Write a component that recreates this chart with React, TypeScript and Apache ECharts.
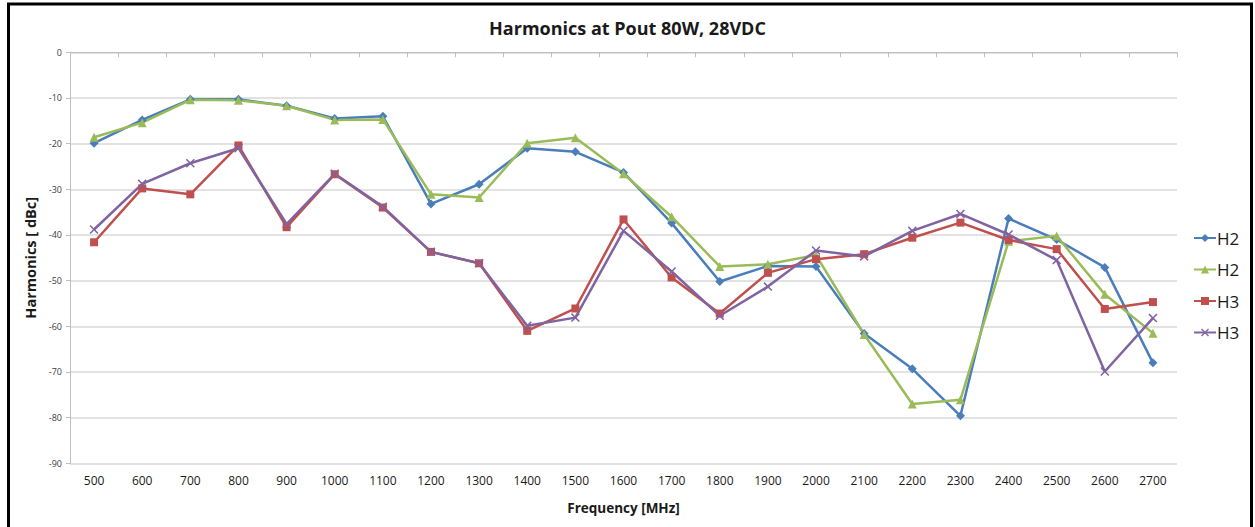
import React, { useEffect, useRef } from "react";
import * as echarts from "echarts";

const categories = ["500","600","700","800","900","1000","1100","1200","1300","1400","1500","1600","1700","1800","1900","2000","2100","2200","2300","2400","2500","2600","2700"];

const h2Blue = [-19.9,-14.8,-10.3,-10.3,-11.7,-14.5,-14.0,-33.2,-28.9,-21.0,-21.8,-26.3,-37.4,-50.2,-46.8,-46.9,-61.6,-69.3,-79.6,-36.4,-41.0,-47.1,-68.0];
const h2Green = [-18.6,-15.4,-10.4,-10.5,-11.7,-14.8,-14.7,-31.1,-31.8,-19.9,-18.7,-26.6,-36.0,-46.9,-46.4,-44.4,-61.8,-77.0,-76.1,-41.4,-40.2,-53.0,-61.5];
const h3Red = [-41.6,-29.8,-31.1,-20.4,-38.3,-26.7,-34.0,-43.7,-46.2,-61.0,-56.1,-36.6,-49.3,-57.2,-48.3,-45.3,-44.2,-40.6,-37.3,-41.1,-43.1,-56.2,-54.7];
const h3Purple = [-38.8,-28.8,-24.3,-21.0,-37.6,-26.6,-33.8,-43.7,-46.2,-59.9,-58.1,-39.1,-48.0,-57.7,-51.3,-43.4,-44.7,-39.1,-35.4,-39.9,-45.5,-69.9,-58.2];

const FONT = "'Open Sans', sans-serif";

export default function App() {
  const ref = useRef<HTMLDivElement>(null);
  useEffect(() => {
    if (!ref.current) return;
    const chart = echarts.init(ref.current, undefined, { renderer: "svg" });
    const xSym = "path://M0,1.2L1.2,0L5,3.8L8.8,0L10,1.2L6.2,5L10,8.8L8.8,10L5,6.2L1.2,10L0,8.8L3.8,5Z";
    const mk = (name: string, data: number[], color: string, symbol: string, size: number) => ({
      name,
      type: "line",
      xAxisIndex: 1,
      data,
      symbol,
      symbolSize: size,
      showSymbol: true,
      lineStyle: { color, width: 2.5 },
      itemStyle: { color },
      emphasis: { disabled: true },
    });
    chart.setOption({
      animation: false,
      backgroundColor: "#ffffff",
      textStyle: { fontFamily: FONT },
      title: {
        text: "Harmonics at Pout 80W, 28VDC",
        left: "center",
        top: 14,
        textStyle: { fontFamily: FONT, fontSize: 18, fontWeight: "bold", color: "#1a1a1a" },
      },
      legend: {
        orient: "vertical",
        left: 1193,
        top: 228,
        padding: 0,
        itemWidth: 22,
        itemHeight: 10,
        itemGap: 11.5,
        textStyle: { fontFamily: FONT, fontSize: 17, color: "#1a1a1a", lineHeight: 20, padding: [0, 0, 0, -4] },
        data: [
          { name: "H2" },
          { name: "H2 " },
          { name: "H3" },
          { name: "H3 " },
        ],
        formatter: (n: string) => n.trim(),
      },
      grid: { left: 70, right: 78, top: 52.3, bottom: 63.7, containLabel: false },
      xAxis: [
        {
          type: "category",
          position: "top",
          data: categories,
          axisLine: { show: true, onZero: false, lineStyle: { color: "#bfbfbf", width: 1 } },
          axisTick: { show: true, inside: true, length: 5, lineStyle: { color: "#bfbfbf" } },
          axisLabel: { show: false },
          splitLine: { show: false },
        },
        {
          type: "category",
          position: "bottom",
          data: categories,
          axisLine: { show: false, onZero: false },
          axisTick: { show: false },
          axisLabel: { fontFamily: FONT, fontSize: 12, color: "#1a1a1a", margin: 11 },
          name: "Frequency [MHz]",
          nameLocation: "middle",
          nameGap: 38,
          nameTextStyle: { fontFamily: FONT, fontSize: 13.5, fontWeight: "bold", color: "#1a1a1a" },
        },
      ],
      yAxis: {
        type: "value",
        min: -90,
        max: 0,
        interval: 10,
        axisLine: { show: true, lineStyle: { color: "#bfbfbf", width: 1 } },
        axisTick: { show: true, length: 4, lineStyle: { color: "#bfbfbf" } },
        axisLabel: { fontFamily: FONT, fontSize: 9, color: "#404040", margin: 8 },
        splitLine: { show: true, lineStyle: { color: "#d9d9d9", width: 1.5 } },
        name: "Harmonics [ dBc]",
        nameLocation: "middle",
        nameGap: 21,
        nameRotate: 90,
        nameTextStyle: { fontFamily: FONT, fontSize: 14.5, fontWeight: "bold", color: "#1a1a1a" },
      },
      series: [
        mk("H2", h2Blue, "#4a7ebb", "diamond", 9),
        mk("H2 ", h2Green, "#9bbb59", "triangle", 9),
        mk("H3", h3Red, "#c0504d", "rect", 8),
        mk("H3 ", h3Purple, "#8064a2", xSym, 9),
      ],
      graphic: [
        {
          type: "rect",
          shape: { x: 8.5, y: 4, width: 1243, height: 600 },
          style: { fill: "none", stroke: "#000000", lineWidth: 3 },
          silent: true,
        },
      ],
    });
    return () => chart.dispose();
  }, []);
  return (
    <div
      ref={ref}
      style={{ position: "fixed", left: 0, top: 0, width: 1255, height: 527, background: "#fff" }}
    />
  );
}
